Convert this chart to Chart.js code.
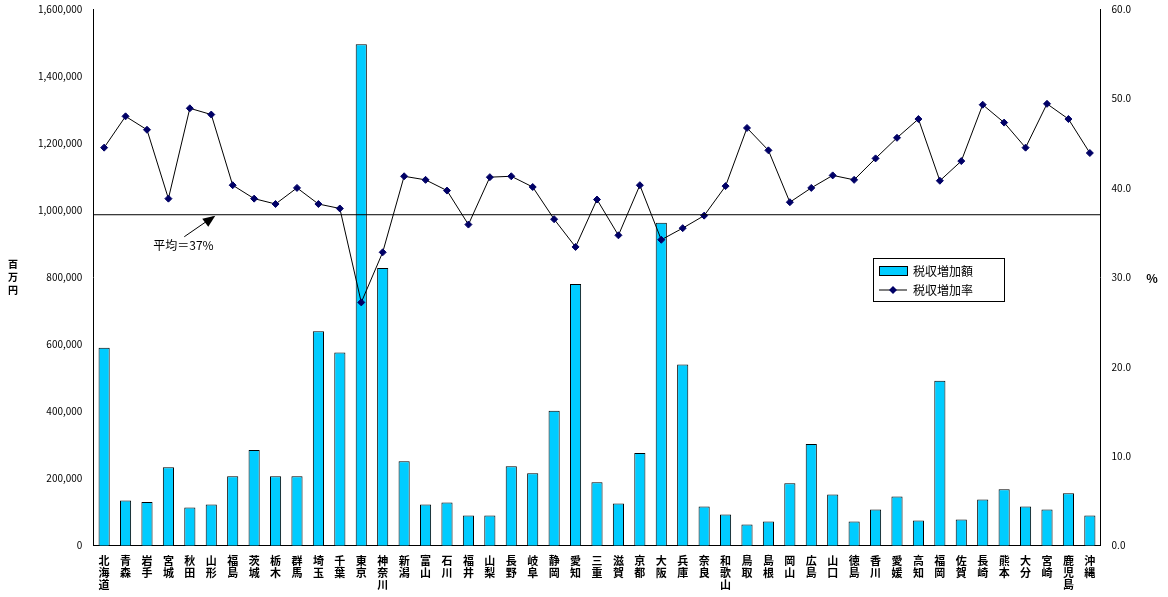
<!DOCTYPE html>
<html>
<head>
<meta charset="utf-8">
<script src="https://cdn.jsdelivr.net/npm/chart.js@4/dist/chart.umd.min.js"></script>
<style>
  html, body { margin: 0; padding: 0; background: #fff; }
  #wrap { width: 1168px; height: 597px; }
</style>
</head>
<body>
<div id="wrap"><canvas id="chart"></canvas></div>
<script>
// 都道府県
const prefectures = ['北海道','青森','岩手','宮城','秋田','山形','福島','茨城','栃木','群馬','埼玉','千葉','東京','神奈川',
  '新潟','富山','石川','福井','山梨','長野','岐阜','静岡','愛知','三重','滋賀','京都','大阪','兵庫','奈良','和歌山',
  '鳥取','島根','岡山','広島','山口','徳島','香川','愛媛','高知','福岡','佐賀','長崎','熊本','大分','宮崎','鹿児島','沖縄'];

// 税収増加額（百万円）
const taxIncrease = [590000,135000,130000,234000,114000,123000,207000,285000,207000,207000,639000,576000,1495000,828000,
  252000,123000,129000,90000,90000,237000,216000,402000,780000,189000,126000,276000,963000,540000,117000,93000,
  63000,72000,186000,303000,153000,72000,108000,147000,75000,492000,78000,138000,168000,117000,108000,156000,90000];

// 税収増加率（%）
const taxRate = [44.5,48.0,46.5,38.8,48.9,48.2,40.3,38.8,38.2,40.0,38.2,37.7,27.2,32.8,
  41.3,40.9,39.7,35.9,41.2,41.3,40.1,36.5,33.4,38.7,34.7,40.3,34.2,35.5,36.9,40.2,
  46.7,44.2,38.4,40.0,41.4,40.9,43.3,45.6,47.7,40.8,43.0,49.3,47.3,44.5,49.4,47.7,43.9];

const averageRate = 37;
const FONT = '"Noto Sans CJK JP", "DejaVu Sans", sans-serif';
const BAR_COLOR = '#00CCFF';

// 平均線・注記・軸タイトル・凡例を描く
const overlayPlugin = {
  id: 'overlay',
  afterDatasetsDraw(chart) {
    const { ctx, chartArea, scales } = chart;
    const yAvg = scales.y2.getPixelForValue(averageRate);
    ctx.save();
    ctx.strokeStyle = '#000';
    ctx.lineWidth = 1;
    ctx.beginPath();
    ctx.moveTo(chartArea.left, yAvg);
    ctx.lineTo(chartArea.right, yAvg);
    ctx.stroke();

    // 矢印
    const ax = scales.x.getPixelForValue(5);
    ctx.beginPath();
    ctx.moveTo(ax - 27, yAvg + 22);
    ctx.lineTo(ax + 2, yAvg + 2);
    ctx.stroke();
    ctx.fillStyle = '#000';
    ctx.beginPath();
    ctx.moveTo(ax + 4, yAvg + 1);
    ctx.lineTo(ax - 9, yAvg + 4);
    ctx.lineTo(ax - 3, yAvg + 12);
    ctx.closePath();
    ctx.fill();
    ctx.font = '12px ' + FONT;
    ctx.textAlign = 'left';
    ctx.textBaseline = 'middle';
    ctx.fillText('平均＝37%', ax - 58, yAvg + 31);

    // 軸タイトル
    ctx.font = 'bold 10px ' + FONT;
    ctx.textAlign = 'center';
    ['百','万','円'].forEach((c, i) => ctx.fillText(c, 13, 264 + i * 13));
    ctx.font = 'bold 12px ' + FONT;
    ctx.fillText('%', 1152, 278);

    // 凡例
    const lx = 873, ly = 258;
    ctx.fillStyle = '#fff';
    ctx.fillRect(lx, ly, 131, 43);
    ctx.strokeRect(lx + 0.5, ly + 0.5, 131, 43);
    ctx.fillStyle = BAR_COLOR;
    ctx.fillRect(lx + 6, ly + 8, 28, 9);
    ctx.strokeRect(lx + 6.5, ly + 8.5, 28, 9);
    ctx.beginPath();
    ctx.moveTo(lx + 6, ly + 32);
    ctx.lineTo(lx + 34, ly + 32);
    ctx.stroke();
    ctx.fillStyle = '#000066';
    ctx.beginPath();
    ctx.moveTo(lx + 20, ly + 28);
    ctx.lineTo(lx + 24, ly + 32);
    ctx.lineTo(lx + 20, ly + 36);
    ctx.lineTo(lx + 16, ly + 32);
    ctx.closePath();
    ctx.fill();
    ctx.fillStyle = '#000';
    ctx.font = '12px ' + FONT;
    ctx.textAlign = 'left';
    ctx.fillText('税収増加額', lx + 40, ly + 13);
    ctx.fillText('税収増加率', lx + 40, ly + 32);
    ctx.restore();
  }
};

new Chart(document.getElementById('chart'), {
  data: {
    labels: prefectures.map(p => p.split('')),
    datasets: [
      {
        type: 'line',
        label: '税収増加率',
        data: taxRate,
        yAxisID: 'y2',
        borderColor: '#000',
        borderWidth: 1,
        pointStyle: 'rectRot',
        pointRadius: 3.5,
        pointBackgroundColor: '#000066',
        pointBorderColor: '#000066',
        tension: 0,
        order: 0
      },
      {
        type: 'bar',
        label: '税収増加額',
        data: taxIncrease,
        yAxisID: 'y',
        backgroundColor: BAR_COLOR,
        borderColor: '#000',
        borderWidth: 1,
        barPercentage: 0.52,
        categoryPercentage: 1,
        order: 1
      }
    ]
  },
  options: {
    responsive: true,
    maintainAspectRatio: false,
    animation: false,
    layout: { padding: { left: 35, right: 34, top: 6, bottom: 5 } },
    plugins: { legend: { display: false }, tooltip: { enabled: false } },
    scales: {
      x: {
        grid: { display: false },
        border: { color: '#000' },
        ticks: {
          color: '#000',
          maxRotation: 0,
          autoSkip: false,
          padding: 1,
          font: { family: FONT, size: 11, weight: 'bold', lineHeight: 1.1 }
        }
      },
      y: {
        position: 'left',
        min: 0, max: 1600000,
        grid: { display: false },
        border: { color: '#000' },
        ticks: {
          stepSize: 200000,
          color: '#000',
          font: { family: FONT, size: 10 },
          callback: v => v.toLocaleString('en-US')
        }
      },
      y2: {
        position: 'right',
        min: 0, max: 60,
        grid: { display: false },
        border: { color: '#000' },
        ticks: {
          stepSize: 10,
          color: '#000',
          font: { family: FONT, size: 10 },
          callback: v => v.toFixed(1)
        }
      }
    }
  },
  plugins: [overlayPlugin]
});
</script>
</body>
</html>
